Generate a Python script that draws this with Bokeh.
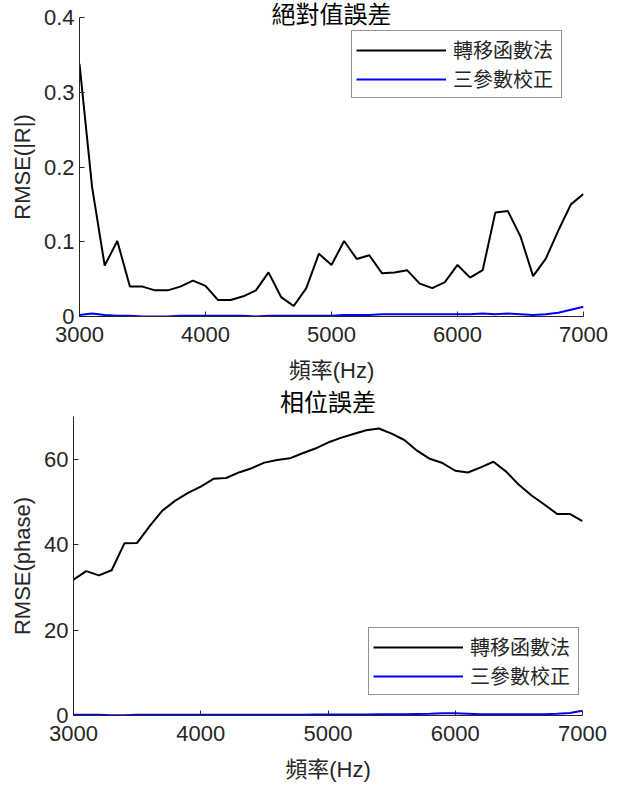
from bokeh.plotting import figure
from bokeh.models import Range1d, FixedTicker, NumeralTickFormatter, Legend, LegendItem
from bokeh.embed import file_html
from bokeh.resources import INLINE

# ---- data ----
freq = list(range(3000, 7001, 100))

mag_tf = [0.338, 0.173, 0.068, 0.101, 0.040, 0.040, 0.035, 0.035, 0.040, 0.048,
          0.041, 0.022, 0.022, 0.027, 0.035, 0.059, 0.026, 0.014, 0.038, 0.084,
          0.069, 0.101, 0.077, 0.082, 0.058, 0.059, 0.062, 0.044, 0.038, 0.046,
          0.069, 0.052, 0.062, 0.139, 0.141, 0.107, 0.054, 0.077, 0.115, 0.150,
          0.164]
mag_3p = [0.002, 0.004, 0.002, 0.001, 0.001, 0.000, 0.000, 0.000, 0.001, 0.001,
          0.001, 0.001, 0.001, 0.001, 0.000, 0.001, 0.001, 0.001, 0.001, 0.001,
          0.001, 0.002, 0.002, 0.002, 0.003, 0.003, 0.003, 0.003, 0.003, 0.003,
          0.003, 0.003, 0.004, 0.003, 0.004, 0.003, 0.002, 0.003, 0.005, 0.009,
          0.013]
phase_tf = [31.8, 33.8, 32.8, 34.0, 40.3, 40.4, 44.4, 48.0, 50.3, 52.1,
            53.6, 55.4, 55.6, 56.9, 57.9, 59.2, 59.8, 60.2, 61.4, 62.5,
            63.9, 65.0, 65.9, 66.8, 67.2, 66.0, 64.5, 62.0, 60.1, 59.1,
            57.3, 56.9, 58.1, 59.4, 57.1, 54.0, 51.5, 49.4, 47.2, 47.2,
            45.5]
phase_3p = [0.2, 0.2, 0.2, 0.05, 0.05, 0.15, 0.2, 0.2, 0.2, 0.2,
            0.2, 0.2, 0.2, 0.2, 0.2, 0.2, 0.2, 0.2, 0.2, 0.25,
            0.25, 0.25, 0.25, 0.25, 0.3, 0.3, 0.3, 0.35, 0.4, 0.5,
            0.5, 0.4, 0.3, 0.3, 0.3, 0.3, 0.3, 0.3, 0.4, 0.6,
            1.1]

x_ticks = [3000, 4000, 5000, 6000, 7000]
mag_ticks = [0, 0.1, 0.2, 0.3, 0.4]
phase_ticks = [0, 20, 40, 60]

series_names = ["轉移函數法", "三參數校正"]
titles = ["絕對值誤差", "相位誤差"]
xlabel = "頻率(Hz)"
ylabels = ["RMSE(|R|)", "RMSE(phase)"]

# ---- styles ----
AX = "#262626"
FONT = "Liberation Sans, Noto Sans CJK TC"


def style_axes(p):
    p.outline_line_color = None
    p.xgrid.visible = False
    p.ygrid.visible = False
    p.background_fill_color = "white"
    p.border_fill_color = "white"
    for ax in (p.xaxis[0], p.yaxis[0]):
        ax.axis_line_color = AX
        ax.axis_line_width = 1
        ax.major_tick_line_color = AX
        ax.major_tick_in = 5
        ax.major_tick_out = 0
        ax.minor_tick_line_color = None
        ax.major_label_text_font = FONT
        ax.major_label_text_font_size = "22px"
        ax.major_label_text_color = AX
        ax.axis_label_text_font = FONT
        ax.axis_label_text_font_size = "22px"
        ax.axis_label_text_font_style = "normal"
        ax.axis_label_text_color = AX
    p.xaxis.major_label_standoff = 10
    p.yaxis.major_label_standoff = 5
    p.xaxis.axis_label_standoff = 13
    p.yaxis.axis_label_standoff = 6


def style_title(p, text, standoff):
    p.title.text = text
    p.title.align = "center"
    p.title.vertical_align = "bottom"
    p.title.text_font = FONT
    p.title.text_font_size = "24px"
    p.title.text_font_style = "normal"
    p.title.text_color = "black"
    p.title.standoff = standoff


def add_legend(p, r1, r2, loc):
    leg = Legend(items=[LegendItem(label=series_names[0], renderers=[r1]),
                        LegendItem(label=series_names[1], renderers=[r2])],
                 location=loc)
    leg.label_text_font = FONT
    leg.label_text_font_size = "20px"
    leg.label_text_color = AX
    leg.glyph_width = 90
    leg.glyph_height = 20
    leg.label_height = 20
    leg.label_width = 104
    leg.label_standoff = 7
    leg.padding = 4
    leg.spacing = 0
    leg.margin = 0
    leg.border_line_color = AX
    leg.border_line_width = 1
    leg.background_fill_color = "white"
    leg.background_fill_alpha = 1
    p.add_layout(leg)


# ---- top plot ----
p1 = figure(width=610, height=385, output_backend="svg", toolbar_location=None,
            x_range=Range1d(3000, 7000), y_range=Range1d(0, 0.4),
            min_border_left=79, min_border_right=27, min_border_top=17,
            min_border_bottom=69)
style_axes(p1)
style_title(p1, titles[0], -20)
p1.xaxis.ticker = FixedTicker(ticks=x_ticks)
p1.yaxis.ticker = FixedTicker(ticks=mag_ticks)
p1.yaxis.formatter = NumeralTickFormatter(format="0.[0]")
p1.xaxis.axis_label = xlabel
p1.yaxis.axis_label = ylabels[0]

r1 = p1.line(freq, mag_tf, line_color="black", line_width=2)
r2 = p1.line(freq, mag_3p, line_color="#0000ff", line_width=2)
add_legend(p1, r1, r2, (272, 218))

# ---- bottom plot ----
p2 = figure(width=610, height=399, output_backend="svg", toolbar_location=None,
            x_range=Range1d(3000, 7000), y_range=Range1d(0, 70),
            min_border_left=73, min_border_right=28, min_border_top=31,
            min_border_bottom=68)
style_axes(p2)
style_title(p2, titles[1], 2)
p2.xaxis.ticker = FixedTicker(ticks=x_ticks)
p2.yaxis.ticker = FixedTicker(ticks=phase_ticks)
p2.xaxis.axis_label = xlabel
p2.yaxis.axis_label = ylabels[1]

s1 = p2.line(freq, phase_tf, line_color="black", line_width=2)
s2 = p2.line(freq, phase_3p, line_color="#0000ff", line_width=2)
add_legend(p2, s1, s2, (295, 20))

open("out.html", "w").write(file_html([p1, p2], INLINE))
